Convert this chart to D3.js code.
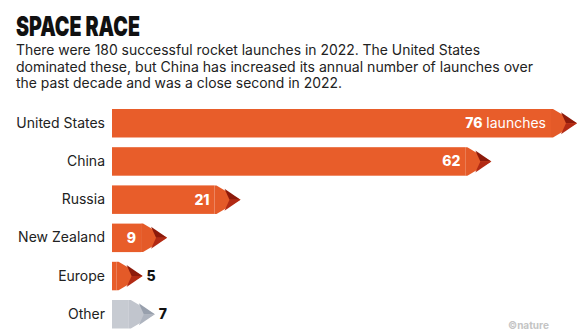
<!DOCTYPE html>
<html>
<head>
<meta charset="utf-8">
<script src="https://cdn.jsdelivr.net/npm/d3@7"></script>
<style>
  html, body { margin: 0; padding: 0; background: #fff; }
  svg { display: block; }
  text { font-family: Inter, "Open Sans", sans-serif; }
</style>
</head>
<body>
<svg id="chart" width="584" height="333"></svg>
<script>
// Successful orbital launches in 2022, by country or region
const categories = ["United States", "China", "Russia", "New Zealand", "Europe", "Other"];
const launches = [76, 62, 21, 9, 5, 7];
const unitLabel = "launches";

const title = "SPACE RACE";
const subtitleLines = [
  "There were 180 successful rocket launches in 2022. The United States",
  "dominated these, but China has increased its annual number of launches over",
  "the past decade and was a close second in 2022."
];
const subtitleWidths = [464, 517, 326];

const W = 584, H = 333;
const svg = d3.select("#chart");

const orange = "#e85d2a", orangeHead = "#e45a28";
const darkUp = "#8c1a0b", darkLow = "#b22a14";
const grey = "#c7cbd2", greyHead = "#c1c5cd";
const greyUp = "#98a0ad", greyLow = "#aeb4bf";

// Title
svg.append("text")
  .attr("x", 16).attr("y", 36)
  .attr("font-family", "Roboto, sans-serif")
  .attr("font-size", 27).attr("font-weight", 900)
  .attr("fill", "#111")
  .attr("textLength", 124).attr("lengthAdjust", "spacingAndGlyphs")
  .text(title);

// Subtitle
svg.append("g").selectAll("text")
  .data(subtitleLines)
  .join("text")
  .attr("x", 16)
  .attr("y", (d, i) => 55 + i * 16.7)
  .attr("font-size", 14)
  .attr("fill", "#222")
  .attr("textLength", (d, i) => subtitleWidths[i])
  .attr("lengthAdjust", "spacingAndGlyphs")
  .text(d => d);

// Scales
const x = d3.scaleLinear().domain([0, 76]).range([112, 577]);
const y = d3.scaleBand().domain(categories).range([109, 328.5]).paddingInner(0.254).paddingOuter(0);

const headLen = 26;
const data = categories.map((c, i) => ({ cat: c, v: launches[i], other: c === "Other" }));

const rows = svg.append("g").selectAll("g")
  .data(data)
  .join("g");

// Category labels (left axis)
const axis = d3.axisLeft(y).tickSize(0).tickPadding(7);
const ax = svg.append("g").attr("transform", `translate(${x(0)},0)`).call(axis);
ax.select(".domain").remove();
ax.selectAll("text").attr("font-size", 14).attr("fill", "#222")
  .attr("font-family", "Inter, sans-serif");

// Bar body
rows.append("rect")
  .attr("x", x(0))
  .attr("y", d => y(d.cat))
  .attr("width", d => Math.max(0, x(d.v) - headLen - x(0)))
  .attr("height", y.bandwidth())
  .attr("fill", d => d.other ? grey : orange);

// Arrow head
rows.append("path")
  .attr("d", d => {
    const t = x(d.v), b = t - headLen, y0 = y(d.cat), h = y.bandwidth();
    return `M${b},${y0}L${t - headLen + 2},${y0}L${t},${y0 + h / 2}L${t - headLen + 2},${y0 + h}L${b},${y0 + h}Z`;
  })
  .attr("fill", d => d.other ? greyHead : orangeHead);

// Dark dart at the tip: upper and lower halves
rows.append("path")
  .attr("d", d => {
    const t = x(d.v), m = y(d.cat) + y.bandwidth() / 2;
    return `M${t - 16},${m - 11}L${t},${m}L${t - 11},${m}Z`;
  })
  .attr("fill", d => d.other ? greyUp : darkUp);
rows.append("path")
  .attr("d", d => {
    const t = x(d.v), m = y(d.cat) + y.bandwidth() / 2;
    return `M${t - 11},${m}L${t},${m}L${t - 16},${m + 11}Z`;
  })
  .attr("fill", d => d.other ? greyLow : darkLow);

// Value labels
const inside = d => d.v >= 9;
const lbl = rows.append("text")
  .attr("x", d => inside(d) ? x(d.v) - headLen - 5 : x(d.v) + 4)
  .attr("y", d => y(d.cat) + y.bandwidth() / 2)
  .attr("dy", "0.36em")
  .attr("text-anchor", d => inside(d) ? "end" : "start")
  .attr("font-size", 14)
  .attr("fill", d => inside(d) ? "#fff" : "#111");
lbl.append("tspan").attr("font-weight", 800).text(d => d.v);
lbl.filter((d, i) => i === 0).append("tspan").attr("font-weight", 400).text(" " + unitLabel);

// Publisher mark, bottom right
svg.append("text")
  .attr("x", 508).attr("y", 329)
  .attr("font-size", 10).attr("font-weight", 700)
  .attr("fill", "#c4c4c4")
  .text("©nature");
</script>
</body>
</html>
